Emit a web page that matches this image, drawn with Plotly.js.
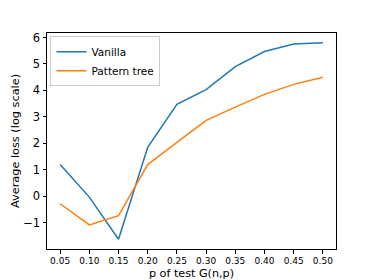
<!DOCTYPE html>
<html><head><meta charset="utf-8">
<script src="https://cdn.plot.ly/plotly-3.0.1.min.js"></script>
<style>html,body{margin:0;padding:0;background:#fff}#c{width:374px;height:280px}</style>
</head><body><div id="c"></div>
<script>
const pValues = [0.05,0.10,0.15,0.20,0.25,0.30,0.35,0.40,0.45,0.50];
const tickLabels = ["0.05","0.10","0.15","0.20","0.25","0.30","0.35","0.40","0.45","0.50"];
const vanilla = [1.2,-0.03,-1.62,1.85,3.48,4.03,4.9,5.47,5.75,5.8];
const patternTree = [-0.28,-1.08,-0.73,1.2,2.04,2.87,3.37,3.85,4.23,4.5];
const yTicks = [-1,0,1,2,3,4,5,6];
const yTickLabels = ["\u22121","0","1","2","3","4","5","6"];

const F = "DejaVu Sans, sans-serif";
const traces = [
  {x:pValues,y:vanilla,mode:'lines',name:'Vanilla',line:{color:'#1f77b4',width:1.5}},
  {x:pValues,y:patternTree,mode:'lines',name:'Pattern tree',line:{color:'#ff7f0e',width:1.5}}
];
const layout = {
  width:374,height:280,
  margin:{l:47,r:38,t:33,b:31,pad:0},
  paper_bgcolor:'#fff',plot_bgcolor:'#fff',
  showlegend:true,
  legend:{x:0.012,y:0.985,xanchor:'left',yanchor:'top',bgcolor:'rgba(255,255,255,0.8)',
    bordercolor:'#ccc',borderwidth:1,font:{family:F,size:10.5,color:'#000'},
    tracegroupgap:0,itemwidth:30},
  xaxis:{range:[0.0275,0.5225],tickvals:pValues,ticktext:tickLabels,
    showgrid:false,zeroline:false,showline:true,mirror:true,linecolor:'#000',linewidth:1,
    ticks:'outside',ticklen:3.5,tickcolor:'#000',tickfont:{family:F,size:9,color:'#000'},
    title:{text:'p of test G(n,p)',font:{family:F,size:11.2,color:'#000'},standoff:5}},
  yaxis:{range:[-1.99,6.17],tickvals:yTicks,ticktext:yTickLabels,
    showgrid:false,zeroline:false,showline:true,mirror:true,linecolor:'#000',linewidth:1,
    ticks:'outside',ticklen:3.5,tickcolor:'#000',tickfont:{family:F,size:11.5,color:'#000'},
    title:{text:'Average loss (log scale)',font:{family:F,size:11.3,color:'#000'},standoff:1}}
};
Plotly.newPlot('c',traces,layout,{displayModeBar:false,staticPlot:true});
</script></body></html>
